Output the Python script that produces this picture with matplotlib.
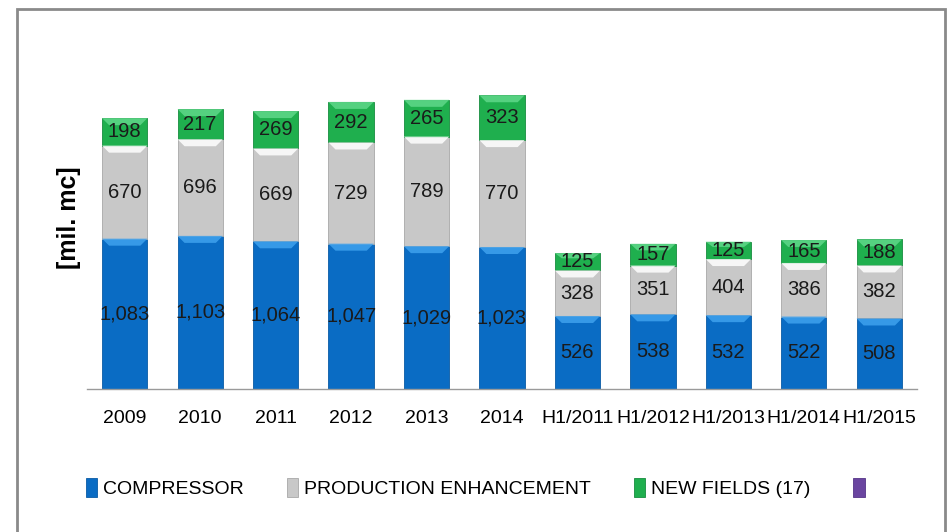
import matplotlib
matplotlib.use("Agg")
import matplotlib.pyplot as plt
from matplotlib.patches import Rectangle, Polygon
import numpy as np

categories = ["2009", "2010", "2011", "2012", "2013", "2014",
              "H1/2011", "H1/2012", "H1/2013", "H1/2014", "H1/2015"]
compressor = [1083, 1103, 1064, 1047, 1029, 1023, 526, 538, 532, 522, 508]
production = [670, 696, 669, 729, 789, 770, 328, 351, 404, 386, 382]
new_fields = [198, 217, 269, 292, 265, 323, 125, 157, 125, 165, 188]
series_names = ["COMPRESSOR", "PRODUCTION ENHANCEMENT", "NEW FIELDS (17)", ""]

plt.rcParams['font.family'] = ['Liberation Sans Narrow', 'Liberation Sans', 'DejaVu Sans']

W, H = 947, 532
fig = plt.figure(figsize=(W / 100, H / 100), dpi=100)
ax = fig.add_axes([87 / W, (H - 389) / H, (917 - 87) / W, (389 - 30) / H])

colors = ["#0A6CC4", "#C8C8C8", "#1FAF4E", "#6A45A0"]
bevel = ["#3FA2EE", "#FFFFFF", "#5FD889", "#9A7BC8"]
edge = ["#0A5BA5", "#A8A8A8", "#178C3E", "#553588"]

x = np.arange(len(categories))
width = 0.6
data = [compressor, production, new_fields]
bottom = np.zeros(len(categories))
ymax = 2586
ax.set_xlim(-0.5, len(categories) - 0.5)
ax.set_ylim(0, ymax)

px_per_x = (917 - 87) / len(categories)
px_per_y = (389 - 30) / ymax

for s, vals in enumerate(data):
    vals = np.array(vals, dtype=float)
    bars = ax.bar(x, vals, width, bottom=bottom, color=colors[s],
                  edgecolor=edge[s], linewidth=0.6, zorder=2)
    for i, b in enumerate(bars):
        x0, y0 = b.get_x(), b.get_y()
        w, h = b.get_width(), b.get_height()
        bh = min(7 / px_per_y, h * 0.3)
        inset = 7 / px_per_x
        poly = Polygon([[x0, y0 + h], [x0 + w, y0 + h],
                        [x0 + w - inset, y0 + h - bh], [x0 + inset, y0 + h - bh]],
                       closed=True, facecolor=bevel[s], edgecolor='none', alpha=0.85, zorder=3)
        ax.add_patch(poly)
        ax.text(x0 + w / 2, y0 + h / 2, f"{int(vals[i]):,}", ha='center', va='center',
                fontsize=14.5, color='#1a1a1a', zorder=4)
    bottom += vals

ax.set_xticks(x)
ax.set_xticklabels(categories, fontsize=14)
ax.tick_params(axis='x', length=0, pad=15)
ax.set_yticks([])
for sp in ['top', 'right', 'left']:
    ax.spines[sp].set_visible(False)
ax.spines['bottom'].set_color('#9a9a9a')
ax.spines['bottom'].set_linewidth(1.0)
ax.set_ylabel("[mil. mc]", fontsize=18, fontweight='bold')
ax.yaxis.set_label_coords(-6 / (917 - 87), (389 - 218) / (389 - 30))

handles = [Rectangle((0, 0), 1, 1, facecolor=colors[k], edgecolor=edge[k], linewidth=0.6)
           for k in range(4)]
fig.legend(handles, series_names, loc='center', bbox_to_anchor=(0.505, (H - 488) / H),
           ncol=4, frameon=False, fontsize=14, handlelength=0.6, handleheight=1.1,
           handletextpad=0.3, columnspacing=2.2)

fig.add_artist(Rectangle((17 / W, -0.05), (945 - 17) / W, (H - 9) / H + 0.05,
                         transform=fig.transFigure, fill=False,
                         edgecolor='#8a8a8a', linewidth=2))

fig.savefig("out.png", dpi=100)
